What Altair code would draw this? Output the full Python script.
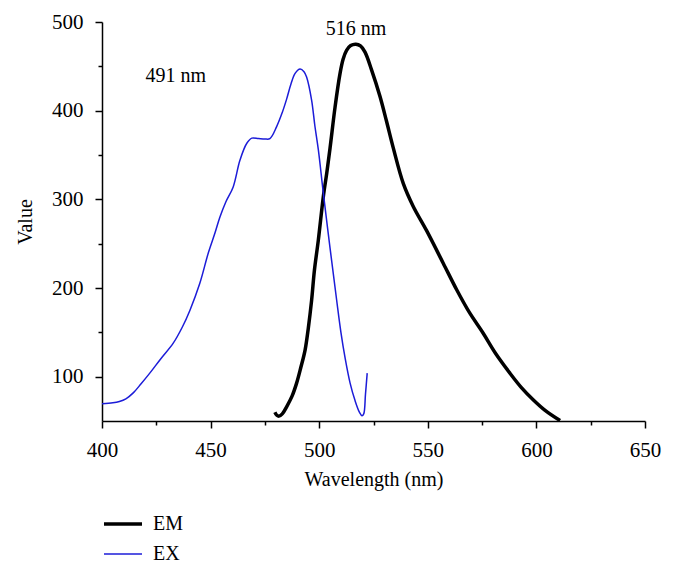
import altair as alt
import pandas as pd

ex_wavelength = [400, 405, 408, 411, 414.5, 418, 422, 427, 432.8, 437, 440.5, 445, 449, 452, 454.3, 457,
                 460.4, 463.5, 466.6, 469, 472, 475, 477.3, 480.4, 483, 485, 487, 488.9, 491.2, 493,
                 494.2, 496.5, 498, 499.6, 501.9, 505, 508, 510, 512, 514.2, 516.5, 518.5, 519.7,
                 520.5, 521.3, 522.1]
ex_value = [69.5, 70.5, 72, 75, 82, 92, 104, 120, 137.8, 156, 175, 205, 240, 262, 280, 297,
            314, 344, 363, 369, 368.5, 368, 368.5, 382, 398, 413, 430, 442, 447, 444,
            438, 412, 383, 356, 307, 245, 187, 150, 120, 93, 73, 60, 56,
            58, 80, 104]

em_wavelength = [479.6, 480.5, 481.5, 483, 485, 487.5, 489.6, 491.5, 493.5, 495, 496.5, 497.8, 499.6,
                 501.9, 503.5, 505, 507.3, 509.6, 511, 512.6, 514.5, 516.9, 519, 521.1, 524.1, 528,
                 531, 534.1, 538.7, 543.3, 549.4, 557.1, 563.3, 569, 575.5, 581, 587.8, 593, 598.5,
                 604, 610.9]
em_value = [60, 56.5, 55.5, 58, 66, 78, 92.7, 110, 130, 155, 186, 220, 254,
            303, 330, 358, 404, 442, 458, 468, 473.5, 475, 473, 466, 446, 416,
            388, 358, 318, 292, 265, 228, 198, 173, 149, 127, 104, 88, 74,
            62, 50.5]

series_names = ["EM", "EX"]
series_colors = ["#000000", "#1c1cd8"]
series_widths = [3.5, 1.5]

annot_text = ["491 nm", "516 nm"]
annot_x = [434, 517]
annot_y = [439, 492]

x_ticks = list(range(400, 651, 25))
y_ticks = list(range(100, 501, 50))

rows = []
for w, v in zip(em_wavelength, em_value):
    rows.append({"Wavelength": w, "Value": v, "Series": "EM", "order": w})
for w, v in zip(ex_wavelength, ex_value):
    rows.append({"Wavelength": w, "Value": v, "Series": "EX", "order": w})
df = pd.DataFrame(rows)

ann = pd.DataFrame({"Wavelength": annot_x, "Value": annot_y, "text": annot_text})

FONT = "Liberation Serif"

x_enc = alt.X("Wavelength:Q",
              scale=alt.Scale(domain=[400, 650], nice=False, zero=False),
              axis=alt.Axis(title="Wavelength (nm)", values=x_ticks, labelFlush=False,
                            labelExpr="datum.value % 50 == 0 ? datum.label : ''",
                            tickSize={"condition": {"test": "datum.value % 50 != 0", "value": 4}, "value": 7},
                            labelPadding=11, titlePadding=9))
y_enc = alt.Y("Value:Q",
              scale=alt.Scale(domain=[50, 500], nice=False, zero=False),
              axis=alt.Axis(title="Value", values=y_ticks, labelFlush=False,
                            labelExpr="datum.value % 100 == 0 ? datum.label : ''",
                            tickSize={"condition": {"test": "datum.value % 100 != 0", "value": 4}, "value": 7},
                            labelPadding=12, titlePadding=16))

lines = alt.Chart(df).mark_line(interpolate="catmull-rom").encode(
    x=x_enc,
    y=y_enc,
    order="order:Q",
    color=alt.Color("Series:N", scale=alt.Scale(domain=series_names, range=series_colors),
                    legend=alt.Legend(title=None, orient="none", legendX=0, legendY=481,
                                      symbolType="stroke", symbolSize=1444,
                                      labelFont=FONT, labelFontSize=20, rowPadding=-10,
                                      labelOffset=9, labelColor="black")),
    strokeWidth=alt.StrokeWidth("Series:N", scale=alt.Scale(domain=series_names, range=series_widths),
                                legend=None),
)

texts = alt.Chart(ann).mark_text(font=FONT, fontSize=20, color="black", baseline="middle").encode(
    x="Wavelength:Q", y="Value:Q", text="text:N")

chart = alt.layer(lines, texts).properties(
    width=543, height=399,
    padding={"left": 94, "top": 14, "right": 22, "bottom": 145},
    autosize=alt.AutoSizeParams(type="none"),
).configure_axis(
    grid=False, domainColor="black", tickColor="black", domainWidth=1.5, tickWidth=1.5,
    labelFont=FONT, labelFontSize=21, labelColor="black",
    titleFont=FONT, titleFontSize=20, titleFontWeight="normal", titleColor="black",
).configure_view(stroke=None)

chart.save("out.html", embed_options={"renderer": "svg", "actions": False})
